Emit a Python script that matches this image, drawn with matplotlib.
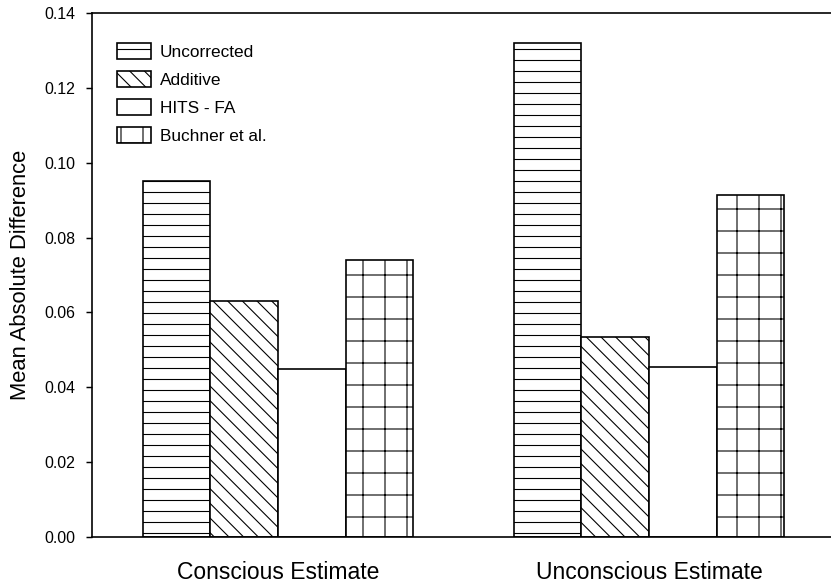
import matplotlib
matplotlib.use('Agg')
import matplotlib.pyplot as plt
import numpy as np

plt.rcParams['font.family'] = ['Liberation Sans', 'DejaVu Sans']
plt.rcParams['hatch.linewidth'] = 0.6

# Данные
groups = ['Conscious Estimate', 'Unconscious Estimate']
methods = ['Uncorrected', 'Additive', 'HITS - FA', 'Buchner et al.']
uncorrected = [0.095, 0.132]
additive = [0.063, 0.0535]
hits_fa = [0.045, 0.0455]
buchner = [0.074, 0.0915]
hatches = ['--', '\\\\\\', '', '+']

dpi = 132
fig = plt.figure(figsize=(831 / dpi, 586 / dpi), dpi=dpi)
ax = fig.add_axes([92 / 831, 49 / 586, 739 / 831, 524 / 586])

x = np.arange(len(groups))
width = 0.182
series = [uncorrected, additive, hits_fa, buchner]
for i, (vals, lab, h) in enumerate(zip(series, methods, hatches)):
    ax.bar(x + (i - 1.5) * width, vals, width, label=lab, color='white',
           edgecolor='black', hatch=h, linewidth=0.9)

ax.set_xlim(-0.5013, 1.4906)
ax.set_ylim(0, 0.14)
ax.set_yticks(np.arange(0, 0.141, 0.02))
ax.set_yticklabels([f'{v:.2f}' for v in np.arange(0, 0.141, 0.02)])
ax.set_xticks(x)
ax.set_xticklabels(groups, fontsize=12.5)
ax.tick_params(axis='x', length=0, pad=13)
ax.tick_params(axis='y', direction='out', length=3.3, width=0.8, pad=6, labelsize=8.7)
ax.spines['right'].set_visible(False)
for s in ['left', 'top', 'bottom']:
    ax.spines[s].set_linewidth(0.9)

ax.set_ylabel('Mean Absolute Difference', fontsize=12)
ax.yaxis.set_label_coords(-0.082, 0.5)

ax.legend(loc='upper left', bbox_to_anchor=(117 / 831, 1 - 43 / 586),
          bbox_transform=fig.transFigure, frameon=False, fontsize=9.4,
          borderpad=0, borderaxespad=0, handlelength=2.0, handleheight=1.06,
          handletextpad=0.47, labelspacing=0.65)

fig.savefig('out.png', dpi=dpi)
